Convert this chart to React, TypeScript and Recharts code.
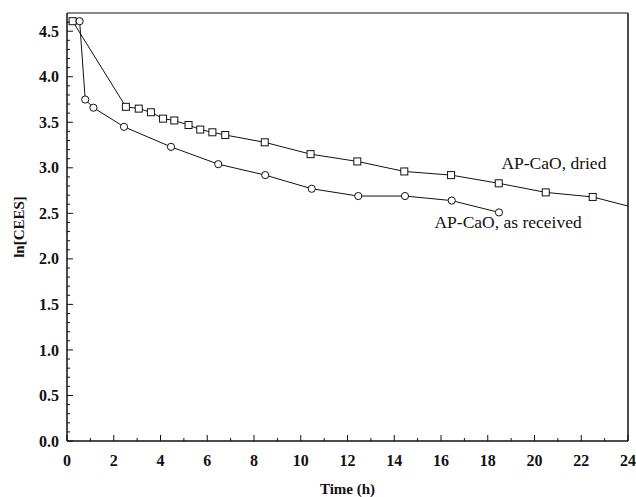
import { LineChart, Line, XAxis, YAxis, ReferenceDot } from "recharts";

// AP-CaO, dried (squares); the last point only carries the line to the frame
const driedTime = [0.24, 2.52, 3.07, 3.59, 4.11, 4.59, 5.2, 5.7, 6.22, 6.77, 8.46, 10.42, 12.42, 14.43, 16.43, 18.47, 20.48, 22.49, 24];
const driedLn = [4.61, 3.67, 3.65, 3.61, 3.54, 3.52, 3.47, 3.42, 3.39, 3.36, 3.28, 3.15, 3.07, 2.96, 2.92, 2.83, 2.73, 2.68, 2.58];

// AP-CaO, as received (circles)
const receivedTime = [0.54, 0.78, 1.13, 2.44, 4.45, 6.47, 8.48, 10.47, 12.46, 14.46, 16.46, 18.48];
const receivedLn = [4.61, 3.75, 3.66, 3.45, 3.23, 3.04, 2.92, 2.77, 2.69, 2.69, 2.64, 2.51];

const xTicks = [0, 2, 4, 6, 8, 10, 12, 14, 16, 18, 20, 22, 24];
const xMinorTicks = [1, 3, 5, 7, 9, 11, 13, 15, 17, 19, 21, 23];
const yTicks = [0, 0.5, 1, 1.5, 2, 2.5, 3, 3.5, 4, 4.5];
const yMinorTicks = [
  0.1, 0.2, 0.3, 0.4, 0.6, 0.7, 0.8, 0.9, 1.1, 1.2, 1.3, 1.4, 1.6, 1.7, 1.8, 1.9,
  2.1, 2.2, 2.3, 2.4, 2.6, 2.7, 2.8, 2.9, 3.1, 3.2, 3.3, 3.4, 3.6, 3.7, 3.8, 3.9,
  4.1, 4.2, 4.3, 4.4, 4.6,
];

const annotations = [
  { text: "AP-CaO, dried", x: 20.83, y: 3.05 },
  { text: "AP-CaO, as received", x: 18.87, y: 2.41 },
];

const dried = driedTime.map((t, i) => ({ t, v: driedLn[i] }));
const received = receivedTime.map((t, i) => ({ t, v: receivedLn[i] }));

const FONT = "Liberation Serif";
const INK = "#111";
const X_MARGIN = 14;
const Y_MARGIN = 8;

function XTick(props: any) {
  const { x, y, payload } = props;
  const axisY = y - X_MARGIN;
  const major = xTicks.includes(payload.value);
  return (
    <g>
      <line x1={x} y1={axisY} x2={x} y2={axisY - (major ? 6 : 3)} stroke={INK} strokeWidth={1} />
      {major && (
        <text x={x} y={y} dy="0.71em" textAnchor="middle" fill={INK} fontSize={16} fontWeight={700} fontFamily={FONT}>
          {payload.value}
        </text>
      )}
    </g>
  );
}

function YTick(props: any) {
  const { x, y, payload } = props;
  const axisX = x + Y_MARGIN;
  const major = yTicks.includes(payload.value);
  return (
    <g>
      <line x1={axisX} y1={y} x2={axisX + (major ? 6 : 3)} y2={y} stroke={INK} strokeWidth={1} />
      {major && (
        <text x={x} y={y} dy="0.35em" textAnchor="end" fill={INK} fontSize={16} fontWeight={700} fontFamily={FONT}>
          {Number(payload.value).toFixed(1)}
        </text>
      )}
    </g>
  );
}

function SquareDot(props: any) {
  const { cx, cy, index } = props;
  if (index === driedTime.length - 1 || cx == null) return <g key={`s${index}`} />;
  return (
    <rect key={`s${index}`} x={cx - 3.5} y={cy - 3.5} width={7} height={7} fill="#fff" stroke={INK} strokeWidth={1} />
  );
}

function CircleDot(props: any) {
  const { cx, cy, index } = props;
  if (cx == null) return <g key={`c${index}`} />;
  return <circle key={`c${index}`} cx={cx} cy={cy} r={3.6} fill="#fff" stroke={INK} strokeWidth={1} />;
}

function YTitle(props: any) {
  const vb = props.viewBox || { y: 13, height: 428 };
  const cy = vb.y + vb.height / 2;
  return (
    <text
      x={19}
      y={cy}
      transform={`rotate(-90 19 ${cy})`}
      textAnchor="middle"
      dominantBaseline="central"
      fill={INK}
      fontSize={15}
      fontWeight={700}
      fontFamily={FONT}
    >
      ln[CEES]
    </text>
  );
}

export default function App() {
  return (
    <div style={{ position: "absolute", left: 0, top: 0, background: "#fff", fontFamily: FONT }}>
      <LineChart width={636} height={497} margin={{ top: 12, right: 7, left: 0, bottom: 0 }}>
        <XAxis
          xAxisId="main"
          type="number"
          dataKey="t"
          domain={[0, 24]}
          ticks={[...xTicks, ...xMinorTicks]}
          interval={0}
          height={56}
          tick={XTick}
          tickSize={0}
          tickMargin={X_MARGIN}
          tickLine={false}
          axisLine={{ stroke: INK, strokeWidth: 1.5 }}
          label={{
            value: "Time (h)",
            position: "insideBottom",
            offset: 3,
            fill: INK,
            fontSize: 15,
            fontWeight: 700,
            fontFamily: FONT,
          }}
        />
        <XAxis
          xAxisId="top"
          orientation="top"
          type="number"
          domain={[0, 24]}
          height={1}
          tick={false}
          tickLine={false}
          axisLine={{ stroke: INK, strokeWidth: 1 }}
        />
        <YAxis
          yAxisId="main"
          type="number"
          dataKey="v"
          domain={[0, 4.7]}
          ticks={[...yTicks, ...yMinorTicks]}
          interval={0}
          width={67}
          tick={YTick}
          tickSize={0}
          tickMargin={Y_MARGIN}
          tickLine={false}
          axisLine={{ stroke: INK, strokeWidth: 1.5 }}
          label={{ content: YTitle }}
        />
        <YAxis
          yAxisId="right"
          orientation="right"
          type="number"
          domain={[0, 4.7]}
          width={1}
          tick={false}
          tickLine={false}
          axisLine={{ stroke: INK, strokeWidth: 1.5 }}
        />
        <Line
          xAxisId="main"
          yAxisId="main"
          data={dried}
          dataKey="v"
          stroke={INK}
          strokeWidth={1}
          dot={SquareDot}
          activeDot={false}
          isAnimationActive={false}
        />
        <Line
          xAxisId="main"
          yAxisId="main"
          data={received}
          dataKey="v"
          stroke={INK}
          strokeWidth={1}
          dot={CircleDot}
          activeDot={false}
          isAnimationActive={false}
        />
        {annotations.map((a) => (
          <ReferenceDot
            key={a.text}
            xAxisId="main"
            yAxisId="main"
            x={a.x}
            y={a.y}
            r={0}
            shape={(p: any) => (
              <text
                x={p.cx}
                y={p.cy}
                dy="0.35em"
                textAnchor="middle"
                fill={INK}
                fontSize={17.5}
                fontFamily={FONT}
              >
                {a.text}
              </text>
            )}
          />
        ))}
      </LineChart>
    </div>
  );
}
